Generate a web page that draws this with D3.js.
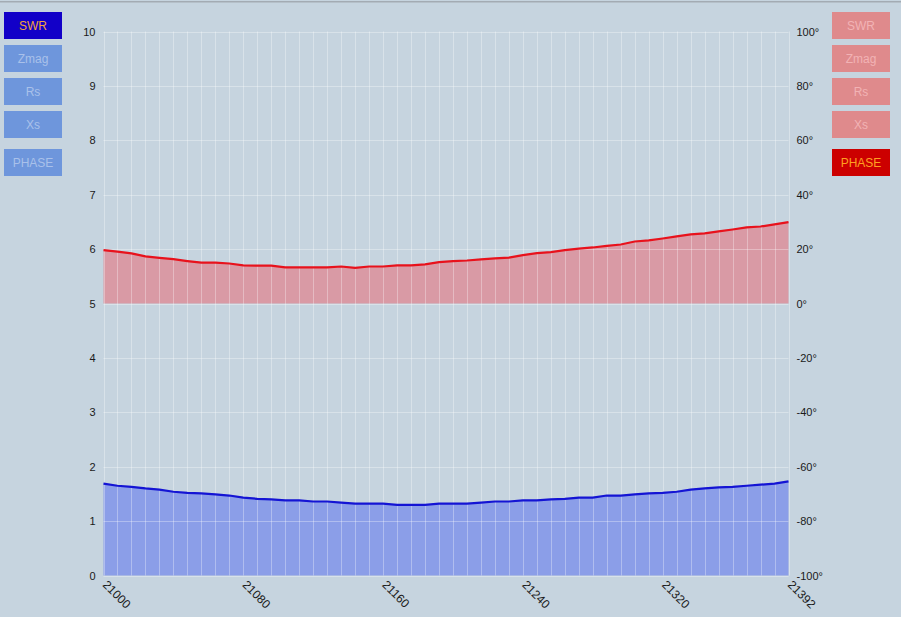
<!DOCTYPE html>
<html><head><meta charset="utf-8">
<script src="https://cdn.jsdelivr.net/npm/d3@7"></script>
<style>
html,body{margin:0;padding:0;background:#c6d4df;}
svg{display:block;font-family:"Liberation Sans",Arial,sans-serif;}
</style></head>
<body><svg id="c" width="901" height="617"></svg>
<script>
const freqStart = 21000, freqStep = 8;
const swr = [1.69,1.65,1.63,1.60,1.58,1.54,1.52,1.51,1.49,1.47,1.43,1.41,1.40,1.38,1.38,1.36,1.36,1.34,1.32,1.32,
  1.32,1.30,1.30,1.30,1.32,1.32,1.32,1.34,1.36,1.36,1.38,1.38,1.40,1.41,1.43,1.43,1.47,1.47,1.49,1.51,
  1.52,1.54,1.58,1.60,1.62,1.63,1.65,1.67,1.69,1.73];
const phase = [19.6,19.1,18.4,17.3,16.8,16.3,15.6,15.0,15.0,14.7,14.0,13.9,13.9,13.3,13.3,13.3,13.3,13.6,13.1,13.6,
  13.6,14.0,14.0,14.4,15.2,15.6,15.8,16.2,16.6,16.9,17.8,18.5,18.9,19.6,20.2,20.6,21.2,21.7,22.8,23.2,
  23.9,24.7,25.4,25.8,26.5,27.2,28.0,28.3,29.1,29.9];
const freqs = swr.map((d,i)=>freqStart + i*freqStep);
const xTicks = [21000,21080,21160,21240,21320,21392];
const leftTicks = [0,1,2,3,4,5,6,7,8,9,10];
const rightTicks = [-100,-80,-60,-40,-20,0,20,40,60,80,100];
const leftButtons = ["SWR","Zmag","Rs","Xs","PHASE"];
const rightButtons = ["SWR","Zmag","Rs","Xs","PHASE"];
const activeLeft = "SWR", activeRight = "PHASE";

const svg = d3.select("#c");
const X0 = 103.5, X1 = 788.5, Y0 = 575.5, Y1 = 31.5;
const x = d3.scaleLinear().domain([21000,21392]).range([X0,X1]);
const yL = d3.scaleLinear().domain([0,10]).range([Y0,Y1]);
const yR = d3.scaleLinear().domain([-100,100]).range([Y0,Y1]);

// top border
svg.append("rect").attr("x",0).attr("y",1).attr("width",901).attr("height",1.5).attr("fill","#a3abb3");

// fills
svg.append("path").datum(phase)
  .attr("d", d3.area().x((d,i)=>x(freqs[i])).y0(yR(0)).y1(d=>yR(d)))
  .attr("fill","#d99aa5");
svg.append("path").datum(swr)
  .attr("d", d3.area().x((d,i)=>x(freqs[i])).y0(yL(0)).y1(d=>yL(d)))
  .attr("fill","#8b9ee8");

// grid
const grid = svg.append("g").attr("stroke","#ffffff").attr("stroke-opacity",0.32).attr("stroke-width",1);
freqs.forEach(f=>grid.append("line").attr("x1",Math.round(x(f))+0.5).attr("x2",Math.round(x(f))+0.5).attr("y1",Y1).attr("y2",Y0));
leftTicks.forEach(t=>grid.append("line").attr("x1",X0).attr("x2",X1).attr("y1",Math.round(yL(t))+0.5).attr("y2",Math.round(yL(t))+0.5));

// lines
svg.append("path").datum(phase)
  .attr("d", d3.line().x((d,i)=>x(freqs[i])).y(d=>yR(d)))
  .attr("fill","none").attr("stroke","#e8121c").attr("stroke-width",2.2);
svg.append("path").datum(swr)
  .attr("d", d3.line().x((d,i)=>x(freqs[i])).y(d=>yL(d)))
  .attr("fill","none").attr("stroke","#1414d4").attr("stroke-width",2.2);

// axes
const axL = svg.append("g").attr("transform",`translate(${X0},0)`)
  .call(d3.axisLeft(yL).tickValues(leftTicks).tickSize(0).tickPadding(8).tickFormat(d3.format("d")));
const axR = svg.append("g").attr("transform",`translate(${X1},0)`)
  .call(d3.axisRight(yR).tickValues(rightTicks).tickSize(0).tickPadding(8).tickFormat(d=>d+"°"));
const axB = svg.append("g").attr("transform",`translate(0,${Y0})`)
  .call(d3.axisBottom(x).tickValues(xTicks).tickSize(0).tickPadding(0).tickFormat(d3.format("d")));
[axL,axR,axB].forEach(a=>{a.select(".domain").remove(); a.selectAll("text").attr("fill","#1a1a1a").attr("font-size",11);});
axB.selectAll("text").attr("font-size",12).attr("text-anchor","start").attr("dy","0")
  .attr("transform","translate(-2,10) rotate(45)");

// buttons
const btnY = [12,45,78,111,149];
function buttons(list, active, bx, bg, fg, abg, afg){
  const g = svg.append("g");
  list.forEach((b,i)=>{
    const on = b===active;
    g.append("rect").attr("x",bx).attr("y",btnY[i]).attr("width",58).attr("height",27)
      .attr("fill",on?abg:bg);
    g.append("text").attr("x",bx+29).attr("y",btnY[i]+13.5).attr("dy","0.35em")
      .attr("text-anchor","middle").attr("font-size",12).attr("fill",on?afg:fg).text(b);
  });
}
buttons(leftButtons, activeLeft, 4, "#6e96dc", "#a9c1ea", "#1200c8", "#f2a43a");
buttons(rightButtons, activeRight, 832, "#df8a8c", "#f2b3b5", "#cc0000", "#ffa020");
</script></body></html>
